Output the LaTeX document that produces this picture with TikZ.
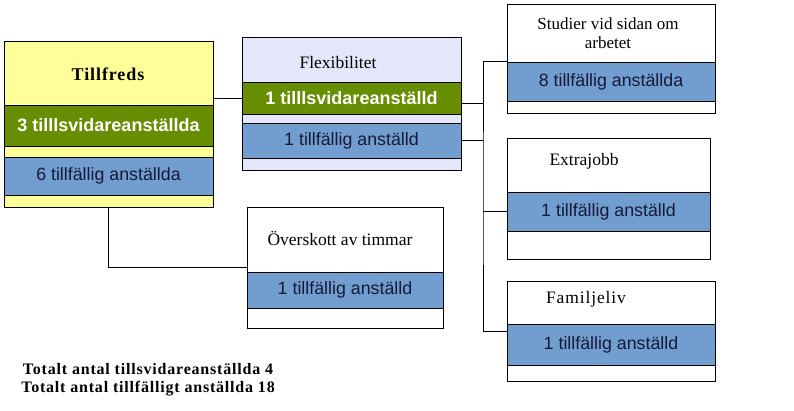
\documentclass[tikz,border=0pt]{standalone}
\usepackage{fontspec}
\setmainfont{Liberation Serif}
\newfontfamily\bandfont{Liberation Sans}
\newfontfamily\glesfont[LetterSpace=5]{Liberation Serif}
\definecolor{gulfarg}{RGB}{255,255,153}
\definecolor{lilafarg}{RGB}{230,230,250}
\definecolor{gronfarg}{RGB}{102,142,0}
\definecolor{blafarg}{RGB}{114,157,207}
\definecolor{marin}{RGB}{22,26,58}

\begin{document}
\begin{tikzpicture}[x=1pt, y=-1pt]

\tikzset{
  ruta/.style={rectangle, draw=black, line width=0.8pt, inner sep=0pt},
  gronband/.style={rectangle, draw=black, line width=0.8pt, inner sep=0pt,
    fill=gronfarg, text=white, font=\bandfont\bfseries\fontsize{18}{21}\selectfont},
  blaband/.style={rectangle, draw=black, line width=0.8pt, inner sep=0pt,
    fill=blafarg, text=marin, font=\bandfont\fontsize{17.8}{21}\selectfont},
  rubrik/.style={font=\fontsize{17.5}{19}\selectfont, align=center, inner sep=0pt},
  linje/.style={line width=0.8pt}
}

\useasboundingbox (0,0) rectangle (794,411);

% ---- BOXES ----
\node (tf) [ruta, fill=gulfarg,  minimum width=209pt, minimum height=166pt] at (108.5,124) {};
\node (fx) [ruta, fill=lilafarg, minimum width=219pt, minimum height=133pt] at (351.5,103.5) {};
\node (st) [ruta, fill=white,    minimum width=208pt, minimum height=109pt] at (611,58.5) {};
\node (ov) [ruta, fill=white,    minimum width=196pt, minimum height=121pt] at (345,267.5) {};
\node (ex) [ruta, fill=white,    minimum width=203pt, minimum height=121pt] at (608.5,198.5) {};
\node (fa) [ruta, fill=white,    minimum width=208pt, minimum height=100pt] at (611,331) {};

% ---- BANDS ----
\node (tfg) [gronband, minimum width=209pt, minimum height=41pt] at (108.5,125.5) {3 tilllsvidareanställda};
\node (tfb) [blaband,  minimum width=209pt, minimum height=38pt] at (108.5,176) {6 tillfällig anställda};
\node (fxg) [gronband, minimum width=219pt, minimum height=32pt] at (351.5,98) {1 tilllsvidareanställd};
\node (fxb) [blaband,  minimum width=219pt, minimum height=35pt] at (351.5,140.5) {1 tillfällig anställd};
\node (stb) [blaband,  minimum width=208pt, minimum height=39pt] at (611,81.5) {8 tillfällig anställda};
\node (ovb) [blaband,  minimum width=196pt, minimum height=36pt] at (345,290) {1 tillfällig anställd};
\node (exb) [blaband,  minimum width=203pt, minimum height=39pt] at (608.5,211.5) {1 tillfällig anställd};
\node (fab) [blaband,  minimum width=208pt, minimum height=41pt] at (611,344.5) {1 tillfällig anställd};

% ---- TITLES ----
\node (tft) [rubrik, font=\glesfont\bfseries\fontsize{18}{20}\selectfont] at (108,74) {Tillfreds};
\node (fxt) [rubrik] at (338,63) {Flexibilitet};
\node (stt) [rubrik, font=\fontsize{17}{19}\selectfont] at (608,33) {Studier vid sidan om\\arbetet};
\node (ovt) [rubrik] at (340,238) {Överskott av timmar};
\node (ext) [rubrik] at (584,161) {Extrajobb};
\node (fat) [rubrik, font=\glesfont\fontsize{17.5}{19}\selectfont] at (586,299) {Familjeliv};

% ---- TOTALS ----
\node (tot) [align=center, inner sep=0pt, font=\glesfont\bfseries\fontsize{16}{18}\selectfont] at (148,380)
  {Totalt antal tillsvidareanställda 4\\Totalt antal tillfälligt anställda 18};

% ---- CONNECTORS ----
\coordinate (bus) at (483,200);
\draw[linje] (fxg.west) -- (fxg.west -| tf.east);
\draw[linje] (tf.south) |- (ov.west);
\draw[linje] ([yshift=-5pt]fxg.east) -- ([yshift=-5pt]fxg.east -| bus);
\draw[linje] (fxb.east) -- (fxb.east -| bus);
\draw[linje] (stb.north west) -| (bus) |- (fa.west);
\draw[linje] (exb.west) -- (exb.west -| bus);

\end{tikzpicture}
\end{document}
